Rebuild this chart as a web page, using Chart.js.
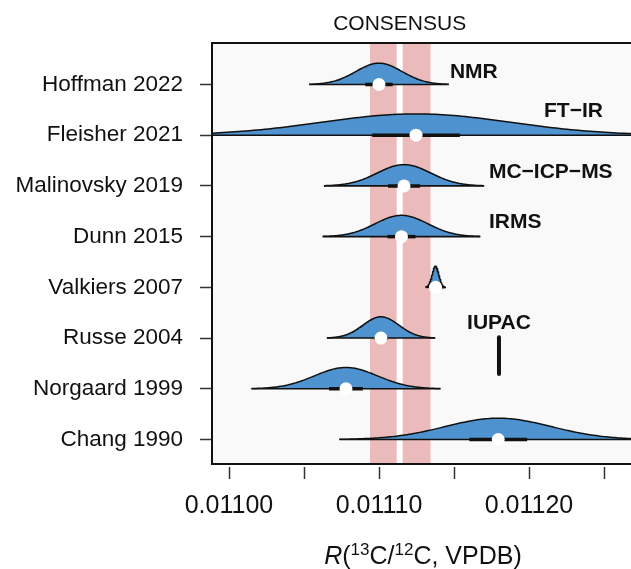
<!DOCTYPE html>
<html>
<head>
<meta charset="utf-8">
<script src="https://cdn.jsdelivr.net/npm/chart.js@4.4.0/dist/chart.umd.min.js"></script>
<style>
  html, body { margin: 0; padding: 0; background: #fff; }
</style>
</head>
<body>
<canvas id="ratioChart" width="631" height="569"></canvas>
<script>
// studies, top row first
const studies = ['Hoffman 2022', 'Fleisher 2021', 'Malinovsky 2019', 'Dunn 2015',
                 'Valkiers 2007', 'Russe 2004', 'Norgaard 1999', 'Chang 1990'];
// reported R(13C/12C, VPDB) of each study
const means = [0.0111000, 0.0111247, 0.0111167, 0.0111150, 0.0111377, 0.0111013, 0.0110780, 0.0111795];
// spread (sd) of each density
const spreads = [0.0000155, 0.0000630, 0.0000178, 0.0000175, 0.0000022, 0.0000120, 0.0000210, 0.0000353];
// half width of the thick black bar
const uncertainties = [0.0000092, 0.0000292, 0.0000107, 0.0000093, 0.0000007, 0.0000045, 0.0000113, 0.0000193];
// method labels
const methods = ['NMR', 'FT\u2212IR', 'MC\u2212ICP\u2212MS', 'IRMS'];
const methodRows = [0, 1, 2, 3];

const consensusValue = 0.0111138;
const consensusLow = 0.0110940;
const consensusHigh = 0.0111345;
const iupacValue = 0.0111800;

const xTicks = [0.01100, 0.01105, 0.01110, 0.01115, 0.01120, 0.01125];
const xTickLabels = ['0.01100', '', '0.01110', '', '0.01120', ''];

// layout stuff
const xMin = 0.0109887, xMax = 0.0112680;
const yMin = 0.517, yMax = 8.818;
const ridgeHeight = 0.42;
const blue = '#4e93cf';
const pink = '#ebbbbb';
const fontFam = "'Liberation Sans', Arial, sans-serif";
// where the method labels sit (left x in data units, y in row units)
const methodPos = [[0.0111473, 8.246], [0.0112100, 7.483], [0.0111733, 6.274], [0.0111733, 5.288]];

Chart.defaults.font.family = fontFam;
Chart.defaults.color = '#111';

function rowOf(i) { return studies.length - i; }

let datasets = [];

// consensus band + line
datasets.push({
  data: [{x: consensusLow, y: yMax}, {x: consensusHigh, y: yMax}],
  fill: {value: yMin}, backgroundColor: pink, borderWidth: 0, pointRadius: 0, order: 100
});
datasets.push({
  data: [{x: consensusValue, y: yMin}, {x: consensusValue, y: yMax}],
  borderColor: '#ffffff', borderWidth: 6, pointRadius: 0, order: 90
});

studies.forEach(function(name, i) {
  let row = rowOf(i);
  let lo = means[i] - 3 * spreads[i], hi = means[i] + 3 * spreads[i];
  let pts = [];
  for (let k = 0; k <= 150; k++) {
    let x = lo + (hi - lo) * k / 150;
    let z = (x - means[i]) / spreads[i];
    pts.push({x: x, y: row + ridgeHeight * Math.exp(-0.5 * z * z)});
  }
  datasets.push({
    data: pts, fill: {value: row}, backgroundColor: blue,
    borderColor: '#111', borderWidth: 1.5, pointRadius: 0, order: 50
  });
  datasets.push({
    data: [{x: lo, y: row}, {x: hi, y: row}],
    borderColor: '#111', borderWidth: 1.6, pointRadius: 0, order: 40
  });
  datasets.push({
    data: [{x: means[i] - uncertainties[i], y: row}, {x: means[i] + uncertainties[i], y: row}],
    borderColor: '#111', borderWidth: 3.5, pointRadius: 0, order: 30
  });
});

// IUPAC value
datasets.push({
  data: [{x: iupacValue, y: 2.292}, {x: iupacValue, y: 3.016}],
  borderColor: '#111', borderWidth: 4, borderCapStyle: 'round', pointRadius: 0, order: 20
});

// mean dots
datasets.push({
  data: means.map(function(m, i) { return {x: m, y: rowOf(i)}; }),
  showLine: false, pointRadius: 6.5, pointBackgroundColor: '#fff',
  pointBorderWidth: 0, pointBorderColor: '#fff', order: 10
});

const panelPlugin = {
  id: 'panel',
  beforeDatasetsDraw(chart) {
    const a = chart.chartArea, ctx = chart.ctx;
    ctx.save();
    ctx.fillStyle = '#f9f9f9';
    ctx.fillRect(a.left, a.top, a.right - a.left, a.bottom - a.top);
    ctx.restore();
  },
  afterDatasetsDraw(chart) {
    const a = chart.chartArea, ctx = chart.ctx;
    const xs = chart.scales.x, ys = chart.scales.y;
    ctx.save();
    // box
    ctx.strokeStyle = '#111';
    ctx.lineWidth = 2;
    ctx.beginPath();
    ctx.moveTo(a.right + 2, a.top);
    ctx.lineTo(a.left, a.top);
    ctx.lineTo(a.left, a.bottom);
    ctx.lineTo(a.right + 2, a.bottom);
    ctx.stroke();

    // x tick marks
    ctx.lineWidth = 1.5;
    ctx.strokeStyle = '#333';
    xTicks.forEach(function(v) {
      let px = Math.round(xs.getPixelForValue(v)) + 0.5;
      ctx.beginPath();
      ctx.moveTo(px, a.bottom + 3);
      ctx.lineTo(px, a.bottom + 15);
      ctx.stroke();
    });

    // method labels
    ctx.fillStyle = '#111';
    ctx.font = 'bold 21px ' + fontFam;
    ctx.textBaseline = 'middle';
    ctx.textAlign = 'left';
    methodRows.forEach(function(j) {
      ctx.fillText(methods[j], xs.getPixelForValue(methodPos[j][0]), ys.getPixelForValue(methodPos[j][1]));
    });
    ctx.textAlign = 'center';
    ctx.fillText('IUPAC', xs.getPixelForValue(iupacValue), ys.getPixelForValue(3.3));

    // consensus title
    ctx.font = '21px ' + fontFam;
    ctx.textBaseline = 'alphabetic';
    ctx.fillText('CONSENSUS', xs.getPixelForValue(consensusValue), 30);

    // x axis title with superscripts
    const big = '25px ' + fontFam, small = '17px ' + fontFam;
    const parts = [
      {t: 'R', f: 'italic ' + big, dy: 0},
      {t: '(', f: big, dy: 0},
      {t: '13', f: small, dy: -9},
      {t: 'C/', f: big, dy: 0},
      {t: '12', f: small, dy: -9},
      {t: 'C, VPDB)', f: big, dy: 0}
    ];
    let total = 0;
    parts.forEach(function(p) { ctx.font = p.f; p.w = ctx.measureText(p.t).width; total += p.w; });
    let x = 423 - total / 2;
    ctx.textAlign = 'left';
    ctx.fillStyle = '#111';
    parts.forEach(function(p) {
      ctx.font = p.f;
      ctx.fillText(p.t, x, 564 + p.dy);
      x += p.w;
    });
    ctx.restore();
  }
};

new Chart(document.getElementById('ratioChart'), {
  type: 'line',
  data: { datasets: datasets },
  options: {
    responsive: false,
    animation: false,
    devicePixelRatio: 1,
    layout: { autoPadding: false, padding: { top: 43, left: 0, right: 0, bottom: 0 } },
    plugins: { legend: { display: false }, tooltip: { enabled: false } },
    elements: { line: { tension: 0 } },
    scales: {
      x: {
        type: 'linear', min: xMin, max: xMax,
        afterBuildTicks: function(s) { s.ticks = xTicks.map(function(v) { return {value: v}; }); },
        afterFit: function(s) { s.height = 105; },
        ticks: {
          callback: function(v, i) { return xTickLabels[i]; },
          font: { size: 25 }, color: '#111', padding: 27, maxRotation: 0, autoSkip: false
        },
        grid: { display: false, drawTicks: false },
        border: { display: false }
      },
      y: {
        type: 'linear', min: yMin, max: yMax,
        afterBuildTicks: function(s) { s.ticks = studies.map(function(n, i) { return {value: rowOf(i)}; }); },
        afterFit: function(s) { s.width = 212; },
        ticks: {
          callback: function(v) { return studies[studies.length - v]; },
          font: { size: 22.5 }, color: '#111', padding: 17, autoSkip: false
        },
        grid: { drawOnChartArea: false, drawTicks: true, tickLength: 12, tickColor: '#333', tickWidth: 1.5 },
        border: { display: false }
      }
    }
  },
  plugins: [panelPlugin]
});
</script>
</body>
</html>
